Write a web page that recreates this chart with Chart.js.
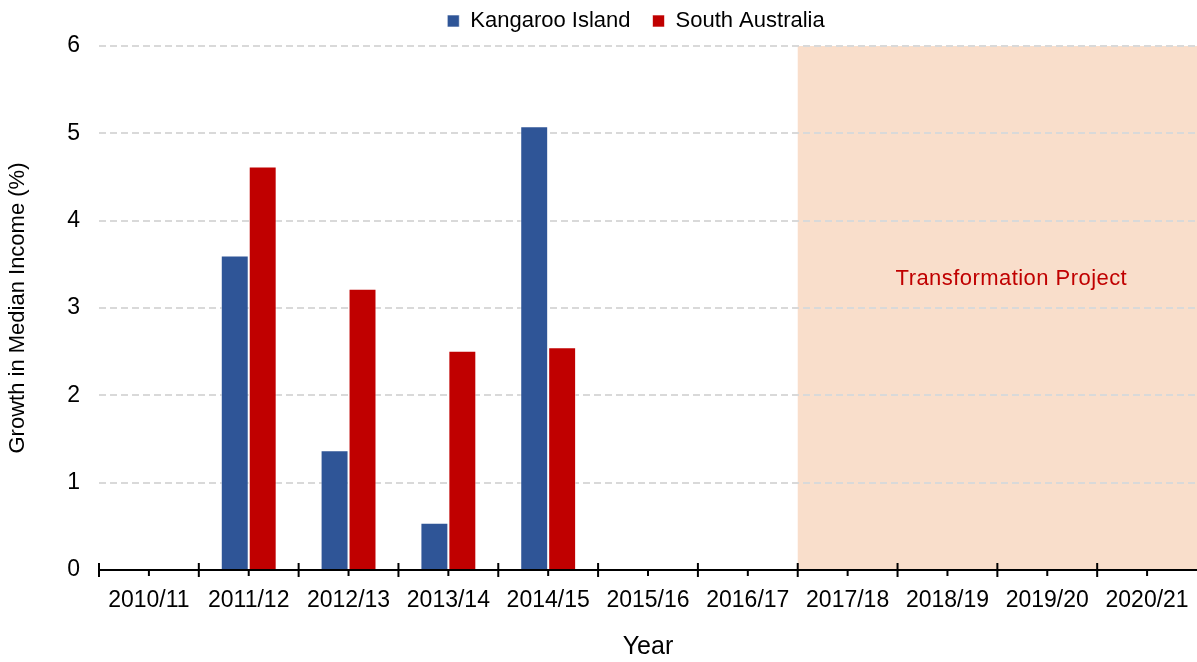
<!DOCTYPE html>
<html>
<head>
<meta charset="utf-8">
<script src="https://cdn.jsdelivr.net/npm/chart.js@4.4.1/dist/chart.umd.min.js"></script>
<style>
  html, body { margin: 0; padding: 0; background: #fff; }
  #wrap { width: 1197px; height: 662px; position: relative; }
</style>
</head>
<body>
<div id="wrap"><canvas id="myChart"></canvas></div>
<script>
// data
const years = ['2010/11', '2011/12', '2012/13', '2013/14', '2014/15', '2015/16',
               '2016/17', '2017/18', '2018/19', '2019/20', '2020/21'];
const kangarooIsland = [null, 3.6, 1.37, 0.54, 5.08, null, null, null, null, null, null];
const southAustralia = [null, 4.62, 3.22, 2.51, 2.55, null, null, null, null, null, null];
const yMin = 0, yMax = 6, yStep = 1;
const projectStart = '2017/18';
const projectLabel = 'Transformation Project';
const projectLabelValue = 3.33;

const FONT = "'Liberation Sans', Arial, sans-serif";

// peach band behind the grid for the project years
const projectBand = {
    id: 'projectBand',
    beforeDraw(chart) {
        const {ctx, chartArea, scales} = chart;
        const xs = scales.x;
        const idx = years.indexOf(projectStart);
        const x0 = (xs.getPixelForValue(idx - 1) + xs.getPixelForValue(idx)) / 2;
        ctx.save();
        ctx.fillStyle = '#F9DECB';
        ctx.fillRect(x0, chartArea.top, chartArea.right - x0, chartArea.bottom - chartArea.top);
        ctx.fillStyle = '#C00000';
        ctx.font = '22px ' + FONT;
        ctx.letterSpacing = '0.45px';
        ctx.textAlign = 'center';
        ctx.textBaseline = 'middle';
        ctx.fillText(projectLabel, (x0 + chartArea.right) / 2 + 14, scales.y.getPixelForValue(projectLabelValue));
        ctx.restore();
    }
};

// excel style tick marks: long ones between years, short ones under each year
const axisTicks = {
    id: 'axisTicks',
    afterDatasetsDraw(chart) {
        const {ctx} = chart;
        const xs = chart.scales.x;
        const yAxis = xs.top;
        const half = (xs.getPixelForValue(1) - xs.getPixelForValue(0)) / 2;
        ctx.save();
        ctx.strokeStyle = '#000';
        ctx.lineWidth = 2;
        ctx.beginPath();
        for (let i = 0; i < years.length; i++) {
            const c = xs.getPixelForValue(i);
            ctx.moveTo(c - half, yAxis - 7);
            ctx.lineTo(c - half, yAxis + 7);
            ctx.moveTo(c, yAxis);
            ctx.lineTo(c, yAxis + 6);
        }
        ctx.stroke();
        ctx.restore();
    }
};

// nudge the legend a little up and left, like the original
const legendShift = {
    id: 'legendShift',
    afterLayout(chart) {
        const l = chart.legend;
        if (!l) return;
        l.left -= 12; l.right -= 12;
        l.top -= 8; l.bottom -= 8;
    }
};

const ctx = document.getElementById('myChart');

const chart = new Chart(ctx, {
    type: 'bar',
    data: {
        labels: years,
        datasets: [{
            label: 'Kangaroo Island',
            data: kangarooIsland,
            backgroundColor: '#2F5597',
            borderColor: 'rgba(255,255,255,0.6)',
            borderWidth: 1
        }, {
            label: 'South Australia',
            data: southAustralia,
            backgroundColor: '#C00000',
            borderColor: 'rgba(255,255,255,0.6)',
            borderWidth: 1
        }]
    },
    options: {
        responsive: true,
        maintainAspectRatio: false,
        animation: false,
        layout: { padding: { top: -13, left: 0, right: 0, bottom: 0 } },
        datasets: {
            bar: { barPercentage: 1, categoryPercentage: 0.56 }
        },
        plugins: {
            legend: {
                position: 'top',
                fullSize: false,
                maxHeight: 50,
                labels: {
                    boxWidth: 12,
                    boxHeight: 12,
                    padding: 22,
                    color: '#000',
                    font: { family: FONT, size: 22, lineHeight: 1 }
                }
            },
            tooltip: { enabled: false }
        },
        scales: {
            x: {
                offset: true,
                grid: { display: false, drawTicks: false },
                border: { display: true, color: '#000', width: 2 },
                ticks: {
                    color: '#000',
                    padding: 17,
                    maxRotation: 0,
                    autoSkip: false,
                    font: { family: FONT, size: 23 }
                },
                title: {
                    display: true,
                    text: 'Year',
                    color: '#000',
                    padding: { top: 0, bottom: 0 },
                    font: { family: FONT, size: 25 }
                },
                afterFit(scale) {
                    scale.height = 92;
                    scale.paddingLeft = 0;
                    scale.paddingRight = 0;
                }
            },
            y: {
                min: yMin,
                max: yMax,
                ticks: {
                    stepSize: yStep,
                    color: '#000',
                    padding: 19,
                    font: { family: FONT, size: 23 }
                },
                grid: {
                    drawTicks: false,
                    color: (c) => c.tick && c.tick.value === 0 ? 'rgba(0,0,0,0)' : '#D9D9D9',
                    lineWidth: 2
                },
                border: { display: false, dash: [7, 4] },
                title: {
                    display: true,
                    text: 'Growth in Median Income (%)',
                    color: '#000',
                    padding: { top: 5, bottom: 0 },
                    font: { family: FONT, size: 22 }
                },
                afterFit(scale) {
                    scale.width = 99;
                    scale.paddingTop = 46;
                }
            }
        }
    },
    plugins: [projectBand, axisTicks, legendShift]
});
</script>
</body>
</html>
